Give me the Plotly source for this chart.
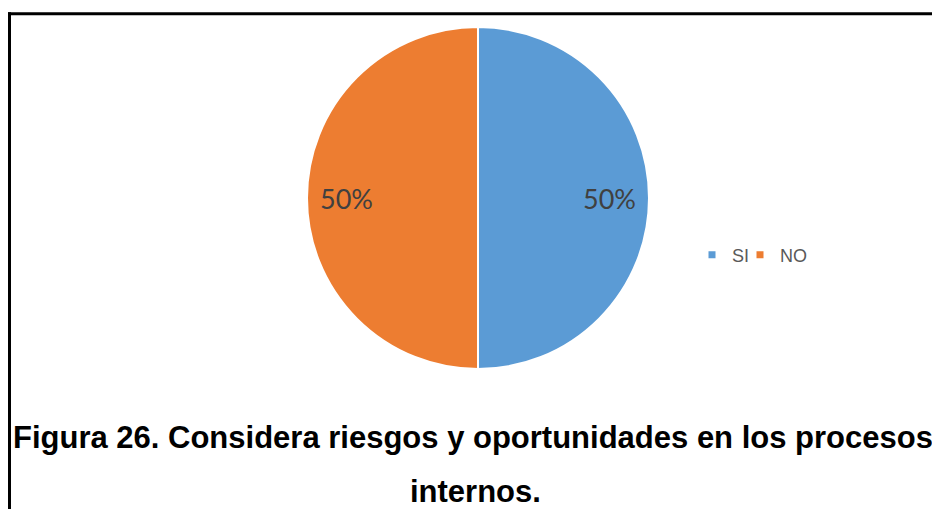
import math
import plotly.graph_objects as go

# Survey answers and their counts
categories = ["SI", "NO"]
values = [1, 1]
slice_colors = ["#5B9BD5", "#ED7D31"]

caption_line1 = "Figura 26. Considera riesgos y oportunidades en los procesos"
caption_line2 = "internos."

W, H = 932, 509

def px_x(x):
    return x / W

def px_y(y):
    return 1 - y / H

# Pie placement (pixels)
pie_left, pie_right, pie_top, pie_bottom = 307, 649, 27, 369
pie_cx = (pie_left + pie_right) / 2
pie_cy = (pie_top + pie_bottom) / 2
pie_r = min(pie_right - pie_left, pie_bottom - pie_top) / 2
label_radius_frac = 0.77

fig = go.Figure()

fig.add_trace(go.Pie(
    labels=categories,
    values=values,
    sort=False,
    direction="clockwise",
    rotation=0,
    marker=dict(colors=slice_colors, line=dict(color="white", width=2)),
    textinfo="none",
    domain=dict(x=[px_x(pie_left), px_x(pie_right)], y=[px_y(pie_bottom), px_y(pie_top)]),
    showlegend=False,
    hoverinfo="label+percent",
))

# Percentage labels placed near the rim of each slice
annotations = []
total = sum(values)
cum = 0.0
for v in values:
    mid = (cum + v / 2) / total * 2 * math.pi  # clockwise from 12 o'clock
    cum += v
    lx = pie_cx + label_radius_frac * pie_r * math.sin(mid)
    ly = pie_cy - label_radius_frac * pie_r * math.cos(mid)
    annotations.append(dict(
        text=f"{v / total:.0%}", xref="paper", yref="paper",
        x=px_x(lx), y=px_y(ly), xanchor="center", yanchor="middle",
        showarrow=False,
        font=dict(family="Lato", size=27, color="#404040"),
    ))

# One small legend per category so the keys sit close together
legend_x = [692, 740]
legend_names = ["legend", "legend2"]
for name, color, lname in zip(categories, slice_colors, legend_names):
    fig.add_trace(go.Scatter(
        x=[None], y=[None], mode="markers", name=name,
        marker=dict(symbol="square", size=7, color=color),
        showlegend=True, legend=lname,
    ))

legend_style = dict(
    orientation="h",
    yanchor="middle",
    xanchor="left",
    font=dict(family="Liberation Sans", size=18, color="#595959"),
    itemwidth=30,
    bgcolor="rgba(0,0,0,0)",
)

annotations += [
    dict(text=caption_line1, xref="paper", yref="paper",
         x=px_x(11), y=px_y(437), xanchor="left", yanchor="middle",
         showarrow=False,
         font=dict(family="Liberation Sans", size=31, color="black", weight="bold")),
    dict(text=caption_line2, xref="paper", yref="paper",
         x=px_x(475), y=px_y(491), xanchor="center", yanchor="middle",
         showarrow=False,
         font=dict(family="Liberation Sans", size=31, color="black", weight="bold")),
]

fig.update_layout(
    width=W, height=H,
    margin=dict(l=0, r=0, t=0, b=0),
    paper_bgcolor="white",
    plot_bgcolor="white",
    xaxis=dict(visible=False),
    yaxis=dict(visible=False),
    legend=dict(x=px_x(legend_x[0]), y=px_y(255), **legend_style),
    legend2=dict(x=px_x(legend_x[1]), y=px_y(255), **legend_style),
    shapes=[
        dict(type="line", xref="paper", yref="paper",
             x0=px_x(8), x1=1.0, y0=px_y(13.8), y1=px_y(13.8),
             line=dict(color="black", width=3)),
        dict(type="line", xref="paper", yref="paper",
             x0=px_x(9.5), x1=px_x(9.5), y0=px_y(12.3), y1=0,
             line=dict(color="black", width=3)),
    ],
    annotations=annotations,
)

fig.write_html("out.html")
